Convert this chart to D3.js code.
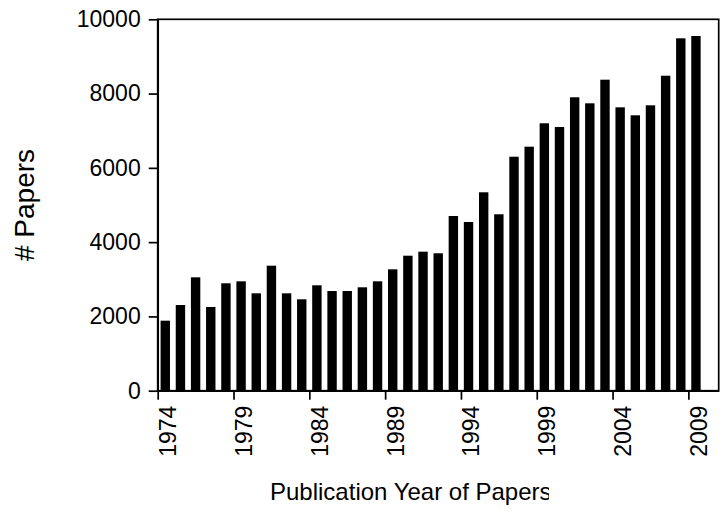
<!DOCTYPE html>
<html>
<head>
<meta charset="utf-8">
<script src="https://cdnjs.cloudflare.com/ajax/libs/d3/7.8.5/d3.min.js"></script>
<style>
    body { margin: 0; background: #ffffff; }
    svg { display: block; font-family: "Liberation Sans", Arial, sans-serif; }
</style>
</head>
<body>
<script>
// Papers per year
const years = [1974, 1975, 1976, 1977, 1978, 1979, 1980, 1981, 1982, 1983,
               1984, 1985, 1986, 1987, 1988, 1989, 1990, 1991, 1992, 1993,
               1994, 1995, 1996, 1997, 1998, 1999, 2000, 2001, 2002, 2003,
               2004, 2005, 2006, 2007, 2008, 2009];
const papers = [1885, 2307, 3053, 2254, 2892, 2945, 2622, 3366, 2622, 2461,
                2838, 2684, 2684, 2784, 2945, 3268, 3635, 3743, 3700, 4704,
                4542, 5342, 4750, 6300, 6570, 7200, 7100, 7900, 7738, 8374,
                7630, 7415, 7684, 8481, 9488, 9550];
const yTicks = [0, 2000, 4000, 6000, 8000, 10000];
const xTicks = [1974, 1979, 1984, 1989, 1994, 1999, 2004, 2009];

const width = 724, height = 521;
// plot box (not named top/left: those clash with window globals)
const plotLeft = 157.7, plotRight = 718.7, plotTop = 19.3, plotBottom = 390.7;
const tickFont = 23;

const svg = d3.select('body')
    .append('svg')
    .attr('width', width)
    .attr('height', height);

// year -> start of its slot (ticks sit on slot starts)
const x = d3.scaleLinear()
    .domain([1974, 2011])
    .range([plotLeft, plotRight]);

const y = d3.scaleLinear()
    .domain([0, 10000])
    .range([plotBottom, plotTop]);

const step = x(1975) - x(1974);
const barWidth = 9.4;

// bars
svg.append('g')
    .selectAll('rect')
    .data(years)
    .enter()
    .append('rect')
    .attr('x', (d) => x(d) + step / 2 - barWidth / 2)
    .attr('y', (d, i) => y(papers[i]))
    .attr('width', barWidth)
    .attr('height', (d, i) => plotBottom - y(papers[i]))
    .attr('fill', '#000');

// frame
svg.append('rect')
    .attr('x', plotLeft)
    .attr('y', plotTop)
    .attr('width', plotRight - plotLeft)
    .attr('height', plotBottom - plotTop)
    .attr('fill', 'none')
    .attr('stroke', '#000')
    .attr('stroke-width', 1.7);

// y axis
const yAxis = svg.append('g')
    .attr('transform', `translate(${plotLeft},0)`)
    .call(d3.axisLeft(y)
        .tickValues(yTicks)
        .tickFormat(d3.format('d'))
        .tickSize(9)
        .tickSizeOuter(0)
        .tickPadding(8));

yAxis.select('.domain').attr('stroke-width', 1.7);
yAxis.selectAll('.tick line').attr('stroke-width', 1.7);
yAxis.selectAll('.tick text')
    .attr('font-family', '"Liberation Sans", Arial, sans-serif')
    .attr('font-size', tickFont)
    .attr('fill', '#000');

// x axis
const xAxis = svg.append('g')
    .attr('transform', `translate(0,${plotBottom})`)
    .call(d3.axisBottom(x)
        .tickValues(xTicks)
        .tickFormat(d3.format('d'))
        .tickSize(9)
        .tickSizeOuter(0));

xAxis.select('.domain').attr('stroke-width', 1.7);
xAxis.selectAll('.tick line').attr('stroke-width', 1.7);
xAxis.selectAll('.tick text')
    .attr('font-family', '"Liberation Sans", Arial, sans-serif')
    .attr('font-size', tickFont)
    .attr('fill', '#000')
    .attr('x', 0)
    .attr('y', 0)
    .attr('dy', 0)
    .attr('text-anchor', 'end')
    .attr('transform', 'translate(18,15) rotate(-90)');

// axis titles
svg.append('text')
    .attr('transform', `translate(34,${(plotTop + plotBottom) / 2}) rotate(-90)`)
    .attr('text-anchor', 'middle')
    .attr('font-size', 28)
    .attr('fill', '#000')
    .text('# Papers');

// the last letter of the x title is cut off in the original
svg.append('clipPath')
    .attr('id', 'title-clip')
    .append('rect')
    .attr('x', 0)
    .attr('y', 0)
    .attr('width', 549)
    .attr('height', height);

svg.append('text')
    .attr('x', 270)
    .attr('y', 500)
    .attr('font-size', 24)
    .attr('fill', '#000')
    .attr('clip-path', 'url(#title-clip)')
    .text('Publication Year of Papers');
</script>
</body>
</html>
